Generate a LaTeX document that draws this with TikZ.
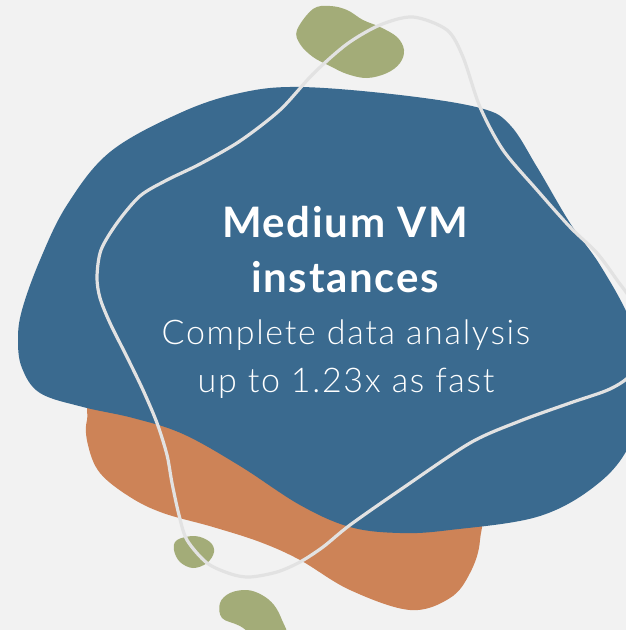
\documentclass[tikz,border=0pt]{standalone}
\usepackage{fontspec}
\setmainfont{Lato}
\newfontfamily\latolight[LetterSpace=5]{Lato Light}
\newfontfamily\latobold[LetterSpace=4]{Lato Bold}
\definecolor{bgc}{HTML}{F2F2F2}
\definecolor{blobblue}{HTML}{3A6A8F}
\definecolor{bloborange}{HTML}{CD8357}
\definecolor{blobgreen}{HTML}{A3AC78}
\definecolor{loopline}{HTML}{E2E2E2}
\tikzset{
  blob/.style={smooth cycle, tension=0.6},
  loopstroke/.style={draw=loopline, line width=3.2pt},
  headline/.style={font=\latobold\fontsize{42}{55}\selectfont, text=white, align=center},
  subline/.style={font=\latolight\fontsize{34}{48}\selectfont, text=white, align=center}
}
\begin{document}
\begin{tikzpicture}[x=1pt, y=-1pt]
  \useasboundingbox (0,0) rectangle (626,630);
  \fill[bgc] (0,0) rectangle (626,630);
  \clip (0,0) rectangle (626,630);

  % orange blob, partly behind the blue one
  \fill[bloborange] plot[blob] coordinates {
    (87,420) (88,445) (100,473) (130,497) (163,513) (213,527) (260,542)
    (300,560) (350,590) (410,610) (450,598) (470,573) (480,540) (476,495)
    (400,460) (200,400) (100,395)};

  % large blue blob
  \fill[blobblue] plot[blob] coordinates {
    (300,87) (400,95) (480,108) (510,125) (537,167) (570,223) (600,265)
    (630,320) (648,380) (632,440) (600,482) (540,516) (450,530) (400,533)
    (350,527) (300,505) (240,466) (183,434) (133,418) (83,407) (40,393)
    (22,368) (18,340) (22,310) (40,260) (67,205) (110,152) (180,113) (240,93)};

  % green blobs
  \fill[blobgreen] plot[blob] coordinates {
    (297,30) (313,9) (330,6) (347,10) (363,20) (380,27) (397,37) (404,50)
    (400,63) (387,73) (367,78) (347,74) (330,66) (313,57) (300,44)};
  \fill[blobgreen] plot[blob] coordinates {
    (177,540) (195,536) (210,542) (214,552) (207,563) (193,568) (180,562) (174,550)};
  \fill[blobgreen] plot[blob] coordinates {
    (220,603) (230,593) (247,590) (262,595) (274,605) (282,620) (286,636)
    (262,640) (240,626) (222,618)};

  % thin closed loop across the shapes
  \draw[loopstroke] plot[smooth cycle, tension=0.5] coordinates {
    (413,17) (447,30) (463,57) (480,107) (503,150) (537,190) (570,227)
    (597,253) (617,280) (632,302) (645,340) (632,373) (610,389) (570,403)
    (520,421) (470,443) (400,490) (350,525) (323,547) (300,562) (277,572)
    (250,577) (231,574) (207,563) (187,540) (179,515) (172,483) (167,455)
    (157,423) (143,390) (127,357) (110,323) (100,298) (97,277) (101,250)
    (117,223) (140,196) (167,180) (200,164) (240,141) (280,110) (313,74)
    (347,44) (380,25)};

  % labels
  \node[headline] (title) at (345,250) {Medium VM\\instances};
  \node[subline, anchor=base] (sub1) at (346,344) {Complete data analysis};
  \node[subline, anchor=base] (sub2) at (346,392) {up to 1.23x as fast};
\end{tikzpicture}
\end{document}
